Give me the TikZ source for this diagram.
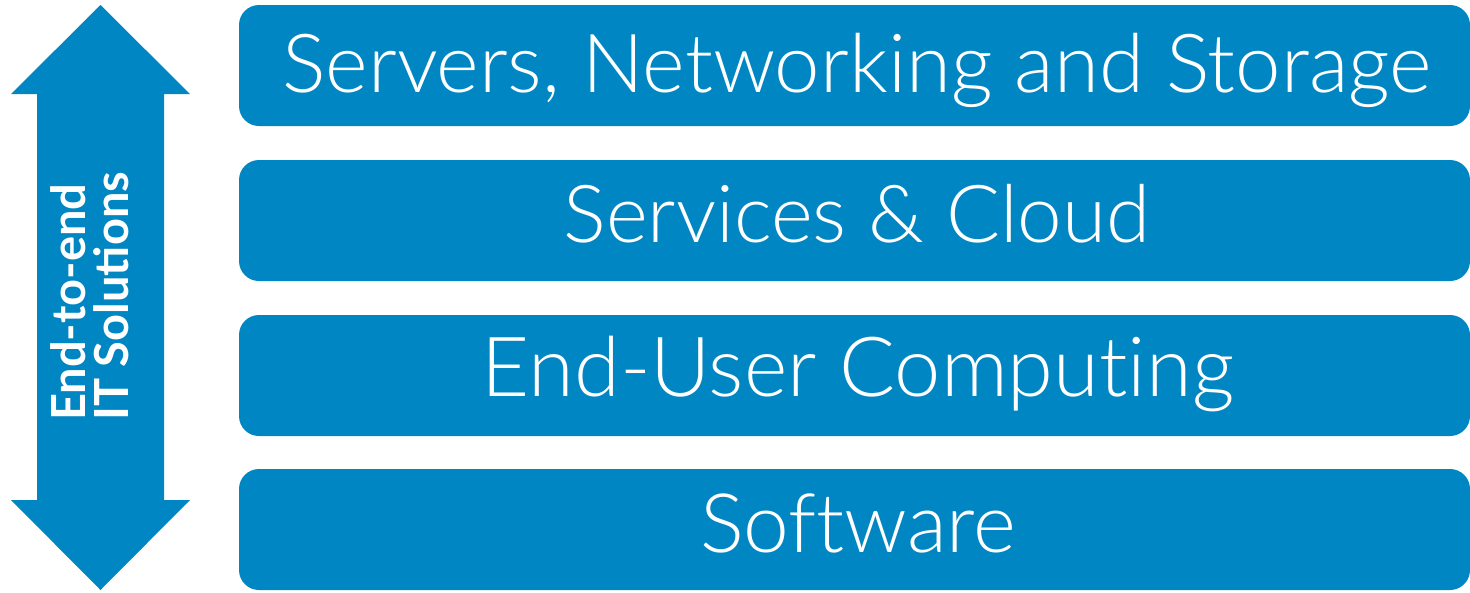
\documentclass[tikz,border=0pt]{standalone}
\usepackage{fontspec}
\setmainfont{Lato}
\newfontfamily\lightfont{Lato Light}[Ligatures={NoCommon,NoDiscretionary,NoContextual}]
\definecolor{dellblue}{HTML}{0086C3}
\newcommand{\lblsize}[1]{\lightfont\fontsize{#1}{#1}\selectfont}
\begin{document}
\begin{tikzpicture}[x=1pt,y=-1pt,
  layer/.style={fill=dellblue,draw=none,rounded corners=20pt},
  label/.style={anchor=base,text=white,inner sep=0pt},
  side/.style={anchor=base west,text=white,inner sep=0pt,rotate=90,font=\bfseries\fontsize{47}{50}\selectfont}]
\useasboundingbox (0,0) rectangle (1470,592);
% double arrow
\fill[dellblue] (100.5,5) -- (190,94) -- (164,94) -- (164,500) -- (190,500) -- (100.5,590)
  -- (11,500) -- (37,500) -- (37,94) -- (11,94) -- cycle;
\node[side] (s1) at (85,421) {End-to-end};
\node[side] (s2) at (128,421) {IT Solutions};
% layers
\fill[layer] (239,5) rectangle (1470,126);
\fill[layer] (239,160) rectangle (1470,281);
\fill[layer] (239,315) rectangle (1470,436);
\fill[layer] (239,469) rectangle (1470,590);
\node[label,font=\lblsize{81.5}] (t1) at (857,92) {Servers, Networking and Storage};
\node[label,font=\lblsize{80}] (t2) at (857,242) {Services \& Cloud};
\node[label,font=\lblsize{83}] (t3) at (858,396) {End-User Computing};
\node[label,font=\lblsize{82}] (t4) at (858,552) {Software};
\end{tikzpicture}
\end{document}
